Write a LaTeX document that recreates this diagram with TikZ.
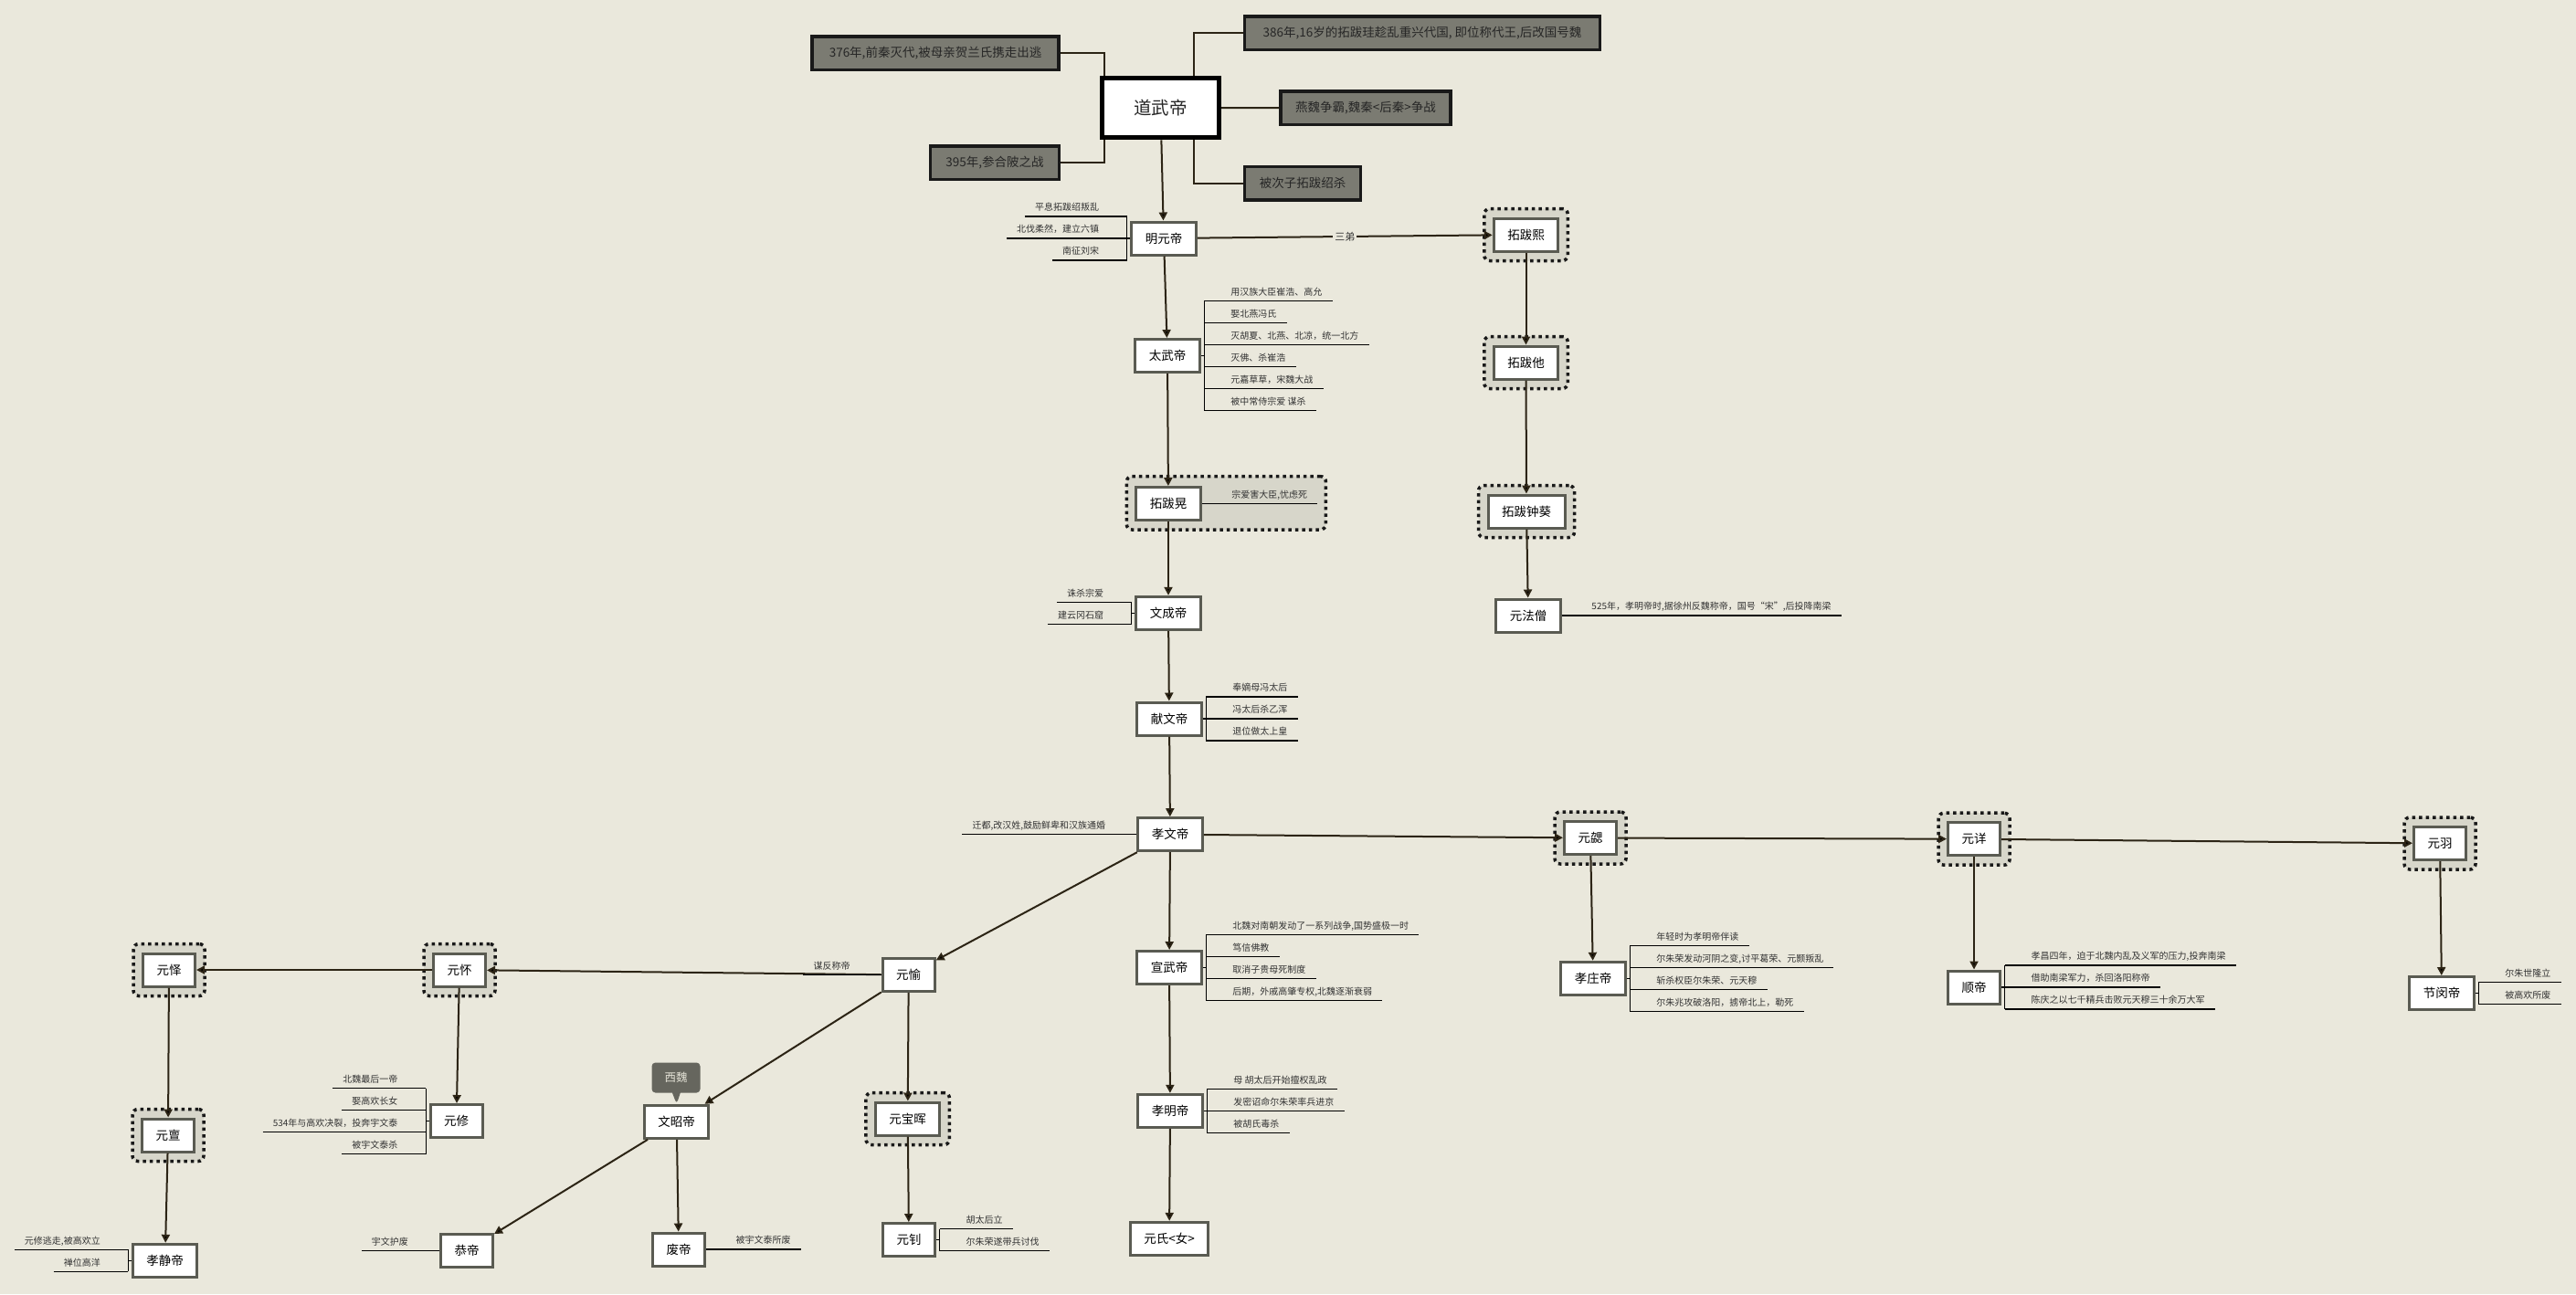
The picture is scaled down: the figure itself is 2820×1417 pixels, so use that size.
\documentclass[tikz,border=0pt]{standalone}
\usepackage{fontspec}
\setmainfont{Noto Sans CJK SC}
\usetikzlibrary{arrows.meta,positioning,fit,backgrounds,shapes.callouts}
\definecolor{paper}{HTML}{EAE8DC}
\definecolor{boxline}{HTML}{5A5B52}
\definecolor{stemc}{HTML}{2C2415}
\definecolor{evfill}{HTML}{7B7B72}
\definecolor{halofill}{HTML}{D7D6CA}
\definecolor{tagfill}{HTML}{66665E}
\definecolor{tagtext}{HTML}{E4E2D6}
\definecolor{notetext}{HTML}{333333}

\begin{document}
\begin{tikzpicture}[x=1pt,y=-1pt,>={Triangle[length=9pt,width=9pt]}]
  \tikzstyle{emp}=[draw=boxline,line width=3pt,fill=white,minimum height=36pt,inner xsep=15pt,font=\fontsize{13.5}{16}\selectfont]
  \tikzstyle{root}=[emp,draw=black,line width=5pt,minimum width=128pt,minimum height=65pt,font=\fontsize{19.5}{22}\selectfont,text=black!85]
  \tikzstyle{event}=[draw=black!90,line width=3.5pt,fill=evfill,minimum height=36.5pt,inner xsep=4pt,font=\fontsize{13.5}{16}\selectfont,text=black!85]
  \tikzstyle{note}=[inner xsep=11pt,inner ysep=6pt,text depth=0pt,font=\fontsize{10}{12}\selectfont,text=notetext]
  \tikzstyle{twig}=[draw=black,line width=1.1pt]
  \tikzstyle{stem}=[draw=stemc,line width=2pt]
  \tikzstyle{halo}=[draw=black!90,fill=halofill,line width=3.5pt,dash pattern=on 3.5pt off 4pt,rounded corners=6pt,inner sep=9pt]
  \tikzstyle{tag}=[rectangle callout,fill=tagfill,text=tagtext,rounded corners=4pt,minimum width=53pt,minimum height=33pt,callout pointer width=9pt,font=\fontsize{12.5}{14}\selectfont]

  \useasboundingbox (0,0) rectangle (2820,1417);

  % 道武帝 and his events
  \node[root] (dwd) at (1270.5,118.3) {道武帝};
  \node[event,minimum width=270pt] (e376) at (1024,58.3) {376年,前秦灭代,被母亲贺兰氏携走出逃};
  \node[event,minimum width=389pt] (e386) at (1557,36) {386年,16岁的拓跋珪趁乱重兴代国, 即位称代王,后改国号魏};
  \node[event,minimum width=186pt] (eyw) at (1495,118) {燕魏争霸,魏秦<后秦>争战};
  \node[event,minimum width=141pt] (e395) at (1089,178.3) {395年,参合陂之战};
  \node[event,minimum width=127pt] (ebc) at (1426,200.7) {被次子拓跋绍杀};

  \draw[stem] (e376.east) -| ([xshift=4.5pt]dwd.north west);
  \draw[stem] (e395.east) -| ([xshift=4.5pt]dwd.south west);
  \draw[stem] (e386.west) -| ([xshift=-30pt]dwd.north east);
  \draw[stem] (ebc.west) -| ([xshift=-30pt]dwd.south east);
  \draw[stem] (dwd) -- (eyw);

  % emperors
  \node[emp] (myd)  at (1274,261)    {明元帝};
  \node[emp] (twd)  at (1278,389.5)  {太武帝};
  \node[emp] (tbh)  at (1279,551.5)  {拓跋晃};
  \node[emp] (wcd)  at (1279,671.3)  {文成帝};
  \node[emp] (xwd)  at (1280,787)    {献文帝};
  \node[emp] (xwnd) at (1281,913.7)  {孝文帝};
  \node[emp] (xuwd) at (1280,1059.5) {宣武帝};
  \node[emp] (xmd)  at (1281,1216.3) {孝明帝};
  \node[emp] (ysn)  at (1280,1356.3) {元氏<女>};
  \node[emp] (tbx)  at (1670.5,257)  {拓跋熙};
  \node[emp] (tbt)  at (1670.5,397)  {拓跋他};
  \node[emp] (tbz)  at (1671,560)    {拓跋钟葵};
  \node[emp] (yfs)  at (1673,674)    {元法僧};
  \node[emp] (yx)   at (1741,917.5)  {元勰};
  \node[emp] (xzd)  at (1744,1071.3) {孝庄帝};
  \node[emp] (yxg)  at (2161,918.7)  {元详};
  \node[emp] (shd)  at (2161,1081)   {顺帝};
  \node[emp] (yy)   at (2671,923.5)  {元羽};
  \node[emp] (jmd)  at (2673,1087.5) {节闵帝};
  \node[emp] (yyu)  at (994.7,1067.5) {元愉};
  \node[emp] (ybh)  at (993.7,1225)  {元宝晖};
  \node[emp] (yz)   at (995,1357.5)  {元钊};
  \node[emp] (wzd)  at (740.7,1228.3) {文昭帝};
  \node[emp] (fd)   at (743,1368)    {废帝};
  \node[emp] (gd)   at (511,1369.5)  {恭帝};
  \node[emp] (yh)   at (503,1062)    {元怀};
  \node[emp] (yxiu) at (499.6,1227.5) {元修};
  \node[emp] (yyi)  at (185,1062)    {元怿};
  \node[emp] (ydan) at (184,1243)    {元亶};
  \node[emp] (xjd)  at (180.7,1380.3) {孝静帝};
  \node[tag,callout absolute pointer={(wzd.north)}] (xiw) at (740,1180) {西魏};

  % 明元帝
  \coordinate (mydb) at ([xshift=-3.5pt]myd.west);
  \node[note,anchor=south east] (my1) at ([shift={(-19.5,-24)}]mydb) {平息拓跋绍叛乱};
  \node[note,anchor=south east] (my2) at ([shift={(-19.5,0)}]mydb) {北伐柔然，建立六镇};
  \node[note,anchor=south east] (my3) at ([shift={(-19.5,24)}]mydb) {南征刘宋};
  \draw[twig] (myd.west) -- (mydb) (mydb |- my1.south) -- (mydb |- my3.south)
    (my1.south west) -- (mydb |- my1.south) (my2.south west) -- (mydb |- my2.south)
    (my3.south west) -- (mydb |- my3.south);

  % 太武帝
  \coordinate (twdb) at ([xshift=3.5pt]twd.east);
  \node[note,anchor=south west] (tw1) at ([shift={(18,-60)}]twdb) {用汉族大臣崔浩、高允};
  \node[note,anchor=south west] (tw2) at ([shift={(18,-36)}]twdb) {娶北燕冯氏};
  \node[note,anchor=south west] (tw3) at ([shift={(18,-12)}]twdb) {灭胡夏、北燕、北凉，统一北方};
  \node[note,anchor=south west] (tw4) at ([shift={(18,12)}]twdb) {灭佛、杀崔浩};
  \node[note,anchor=south west] (tw5) at ([shift={(18,36)}]twdb) {元嘉草草，宋魏大战};
  \node[note,anchor=south west] (tw6) at ([shift={(18,60)}]twdb) {被中常侍宗爱 谋杀};
  \draw[twig] (twd.east) -- (twdb) (twdb |- tw1.south) -- (twdb |- tw6.south)
    (twdb |- tw1.south) -- (tw1.south east) (twdb |- tw2.south) -- (tw2.south east)
    (twdb |- tw3.south) -- (tw3.south east) (twdb |- tw4.south) -- (tw4.south east)
    (twdb |- tw5.south) -- (tw5.south east) (twdb |- tw6.south) -- (tw6.south east);

  % 拓跋晃
  \node[note,anchor=south west] (tbh1) at ([xshift=21.5pt]tbh.east) {宗爱害大臣,忧虑死};
  \draw[twig] (tbh.east) -- (tbh1.south east);

  % 文成帝
  \coordinate (wcdb) at ([xshift=-3.5pt]wcd.west);
  \node[note,anchor=south east] (wc1) at ([shift={(-19.5,-12)}]wcdb) {诛杀宗爱};
  \node[note,anchor=south east] (wc2) at ([shift={(-19.5,12)}]wcdb) {建云冈石窟};
  \draw[twig] (wcd.west) -- (wcdb) (wcdb |- wc1.south) -- (wcdb |- wc2.south)
    (wc1.south west) -- (wcdb |- wc1.south) (wc2.south west) -- (wcdb |- wc2.south);

  % 献文帝
  \coordinate (xwdb) at ([xshift=3.5pt]xwd.east);
  \node[note,anchor=south west] (xw1) at ([shift={(18,-24)}]xwdb) {奉嫡母冯太后};
  \node[note,anchor=south west] (xw2) at ([shift={(18,0)}]xwdb) {冯太后杀乙浑};
  \node[note,anchor=south west] (xw3) at ([shift={(18,24)}]xwdb) {退位做太上皇};
  \draw[twig] (xwd.east) -- (xwdb) (xwdb |- xw1.south) -- (xwdb |- xw3.south)
    (xwdb |- xw1.south) -- (xw1.south east) (xwdb |- xw2.south) -- (xw2.south east)
    (xwdb |- xw3.south) -- (xw3.south east);

  % 孝文帝
  \node[note,anchor=south east] (xwn1) at ([xshift=-23pt]xwnd.west) {迁都,改汉姓,鼓励鲜卑和汉族通婚};
  \draw[twig] (xwnd.west) -- (xwn1.south west);

  % 宣武帝
  \coordinate (xuwdb) at ([xshift=3.5pt]xuwd.east);
  \node[note,anchor=south west] (xu1) at ([shift={(18,-36)}]xuwdb) {北魏对南朝发动了一系列战争,国势盛极一时};
  \node[note,anchor=south west] (xu2) at ([shift={(18,-12)}]xuwdb) {笃信佛教};
  \node[note,anchor=south west] (xu3) at ([shift={(18,12)}]xuwdb) {取消子贵母死制度};
  \node[note,anchor=south west] (xu4) at ([shift={(18,36)}]xuwdb) {后期，外戚高肇专权,北魏逐渐衰弱};
  \draw[twig] (xuwd.east) -- (xuwdb) (xuwdb |- xu1.south) -- (xuwdb |- xu4.south)
    (xuwdb |- xu1.south) -- (xu1.south east) (xuwdb |- xu2.south) -- (xu2.south east)
    (xuwdb |- xu3.south) -- (xu3.south east) (xuwdb |- xu4.south) -- (xu4.south east);

  % 孝明帝
  \coordinate (xmdb) at ([xshift=3.5pt]xmd.east);
  \node[note,anchor=south west] (xm1) at ([shift={(18,-24)}]xmdb) {母 胡太后开始擅权乱政};
  \node[note,anchor=south west] (xm2) at ([shift={(18,0)}]xmdb) {发密诏命尔朱荣率兵进京};
  \node[note,anchor=south west] (xm3) at ([shift={(18,24)}]xmdb) {被胡氏毒杀};
  \draw[twig] (xmd.east) -- (xmdb) (xmdb |- xm1.south) -- (xmdb |- xm3.south)
    (xmdb |- xm1.south) -- (xm1.south east) (xmdb |- xm2.south) -- (xm2.south east)
    (xmdb |- xm3.south) -- (xm3.south east);

  % 元法僧
  \node[note,anchor=south west] (yfs1) at ([xshift=21.5pt]yfs.east) {525年，孝明帝时,据徐州反魏称帝，国号“宋”,后投降南梁};
  \draw[twig] (yfs.east) -- (yfs1.south east);

  % 孝庄帝
  \coordinate (xzdb) at ([xshift=3.5pt]xzd.east);
  \node[note,anchor=south west] (xz1) at ([shift={(18,-36)}]xzdb) {年轻时为孝明帝伴读};
  \node[note,anchor=south west] (xz2) at ([shift={(18,-12)}]xzdb) {尔朱荣发动河阴之变,讨平葛荣、元颢叛乱};
  \node[note,anchor=south west] (xz3) at ([shift={(18,12)}]xzdb) {斩杀权臣尔朱荣、元天穆};
  \node[note,anchor=south west] (xz4) at ([shift={(18,36)}]xzdb) {尔朱兆攻破洛阳，掳帝北上，勒死};
  \draw[twig] (xzd.east) -- (xzdb) (xzdb |- xz1.south) -- (xzdb |- xz4.south)
    (xzdb |- xz1.south) -- (xz1.south east) (xzdb |- xz2.south) -- (xz2.south east)
    (xzdb |- xz3.south) -- (xz3.south east) (xzdb |- xz4.south) -- (xz4.south east);

  % 顺帝
  \coordinate (shdb) at ([xshift=3.5pt]shd.east);
  \node[note,anchor=south west] (sh1) at ([shift={(18,-24)}]shdb) {孝昌四年，迫于北魏内乱及义军的压力,投奔南梁};
  \node[note,anchor=south west] (sh2) at ([shift={(18,0)}]shdb) {借助南梁军力，杀回洛阳称帝};
  \node[note,anchor=south west] (sh3) at ([shift={(18,24)}]shdb) {陈庆之以七千精兵击败元天穆三十余万大军};
  \draw[twig] (shd.east) -- (shdb) (shdb |- sh1.south) -- (shdb |- sh3.south)
    (shdb |- sh1.south) -- (sh1.south east) (shdb |- sh2.south) -- (sh2.south east)
    (shdb |- sh3.south) -- (sh3.south east);

  % 节闵帝
  \coordinate (jmdb) at ([xshift=3.5pt]jmd.east);
  \node[note,anchor=south west] (jm1) at ([shift={(18,-12)}]jmdb) {尔朱世隆立};
  \node[note,anchor=south west] (jm2) at ([shift={(18,12)}]jmdb) {被高欢所废};
  \draw[twig] (jmd.east) -- (jmdb) (jmdb |- jm1.south) -- (jmdb |- jm2.south)
    (jmdb |- jm1.south) -- (jm1.south east) (jmdb |- jm2.south) -- (jm2.south east);

  % 元钊
  \coordinate (yzb) at ([xshift=3.5pt]yz.east);
  \node[note,anchor=south west] (yz1) at ([shift={(18,-12)}]yzb) {胡太后立};
  \node[note,anchor=south west] (yz2) at ([shift={(18,12)}]yzb) {尔朱荣遂带兵讨伐};
  \draw[twig] (yz.east) -- (yzb) (yzb |- yz1.south) -- (yzb |- yz2.south)
    (yzb |- yz1.south) -- (yz1.south east) (yzb |- yz2.south) -- (yz2.south east);

  % 废帝, 元愉, 恭帝
  \node[note,anchor=south west] (fd1) at ([xshift=21.5pt]fd.east) {被宇文泰所废};
  \draw[twig] (fd.east) -- (fd1.south east);
  \node[note,anchor=south east] (yyu1) at ([xshift=-23pt]yyu.west) {谋反称帝};
  \node[note,anchor=south east] (gd1) at ([xshift=-23pt]gd.west) {宇文护废};
  \draw[twig] (gd.west) -- (gd1.south west);

  % 元修
  \coordinate (yxiub) at ([xshift=-3.5pt]yxiu.west);
  \node[note,anchor=south east] (yxi1) at ([shift={(-19.5,-36)}]yxiub) {北魏最后一帝};
  \node[note,anchor=south east] (yxi2) at ([shift={(-19.5,-12)}]yxiub) {娶高欢长女};
  \node[note,anchor=south east] (yxi3) at ([shift={(-19.5,12)}]yxiub) {534年与高欢决裂，投奔宇文泰};
  \node[note,anchor=south east] (yxi4) at ([shift={(-19.5,36)}]yxiub) {被宇文泰杀};
  \draw[twig] (yxiu.west) -- (yxiub) (yxiub |- yxi1.south) -- (yxiub |- yxi4.south)
    (yxi1.south west) -- (yxiub |- yxi1.south) (yxi2.south west) -- (yxiub |- yxi2.south)
    (yxi3.south west) -- (yxiub |- yxi3.south) (yxi4.south west) -- (yxiub |- yxi4.south);

  % 孝静帝
  \coordinate (xjdb) at ([xshift=-3.5pt]xjd.west);
  \node[note,anchor=south east] (xj1) at ([shift={(-19.5,-12)}]xjdb) {元修逃走,被高欢立};
  \node[note,anchor=south east] (xj2) at ([shift={(-19.5,12)}]xjdb) {禅位高洋};
  \draw[twig] (xjd.west) -- (xjdb) (xjdb |- xj1.south) -- (xjdb |- xj2.south)
    (xj1.south west) -- (xjdb |- xj1.south) (xj2.south west) -- (xjdb |- xj2.south);

  \path[stem,->]
  (dwd)  edge (myd)
  (myd)  edge (twd)
         edge node[fill=paper,inner sep=2pt,font=\fontsize{11}{12}\selectfont,text=notetext] {三弟} (tbx)
  (twd)  edge (tbh)
  (tbh)  edge (wcd)
  (wcd)  edge (xwd)
  (xwd)  edge (xwnd)
  (xwnd) edge (xuwd)
         edge (yx)
         edge (yyu)
  (xuwd) edge (xmd)
  (xmd)  edge (ysn)
  (tbx)  edge (tbt)
  (tbt)  edge (tbz)
  (tbz)  edge (yfs)
  (yx)   edge (yxg)
         edge (xzd)
  (yxg)  edge (yy)
         edge (shd)
  (yy)   edge (jmd)
  (yyu)  edge (yh)
         edge (wzd)
         edge (ybh)
  (ybh)  edge (yz)
  (wzd)  edge (fd)
         edge (gd)
  (yh)   edge (yyi)
         edge (yxiu)
  (yyi)  edge (ydan)
  (ydan) edge (xjd);

  \draw[twig] (yyu.west) -- (yyu1.south west);

  \begin{scope}[on background layer]
    \fill[paper] (0,0) rectangle (2820,1417);
    \node[halo,fit=(tbh)(tbh1)] (tbhh) {};
    \node[halo,fit=(tbx)] (tbxh) {};
    \node[halo,fit=(tbt)] (tbth) {};
    \node[halo,fit=(tbz)] (tbzh) {};
    \node[halo,fit=(yx)] (yxh) {};
    \node[halo,fit=(yxg)] (yxgh) {};
    \node[halo,fit=(yy)] (yyh) {};
    \node[halo,fit=(ybh)] (ybhh) {};
    \node[halo,fit=(yh)] (yhh) {};
    \node[halo,fit=(yyi)] (yyih) {};
    \node[halo,fit=(ydan)] (ydanh) {};
  \end{scope}
\end{tikzpicture}
\end{document}
